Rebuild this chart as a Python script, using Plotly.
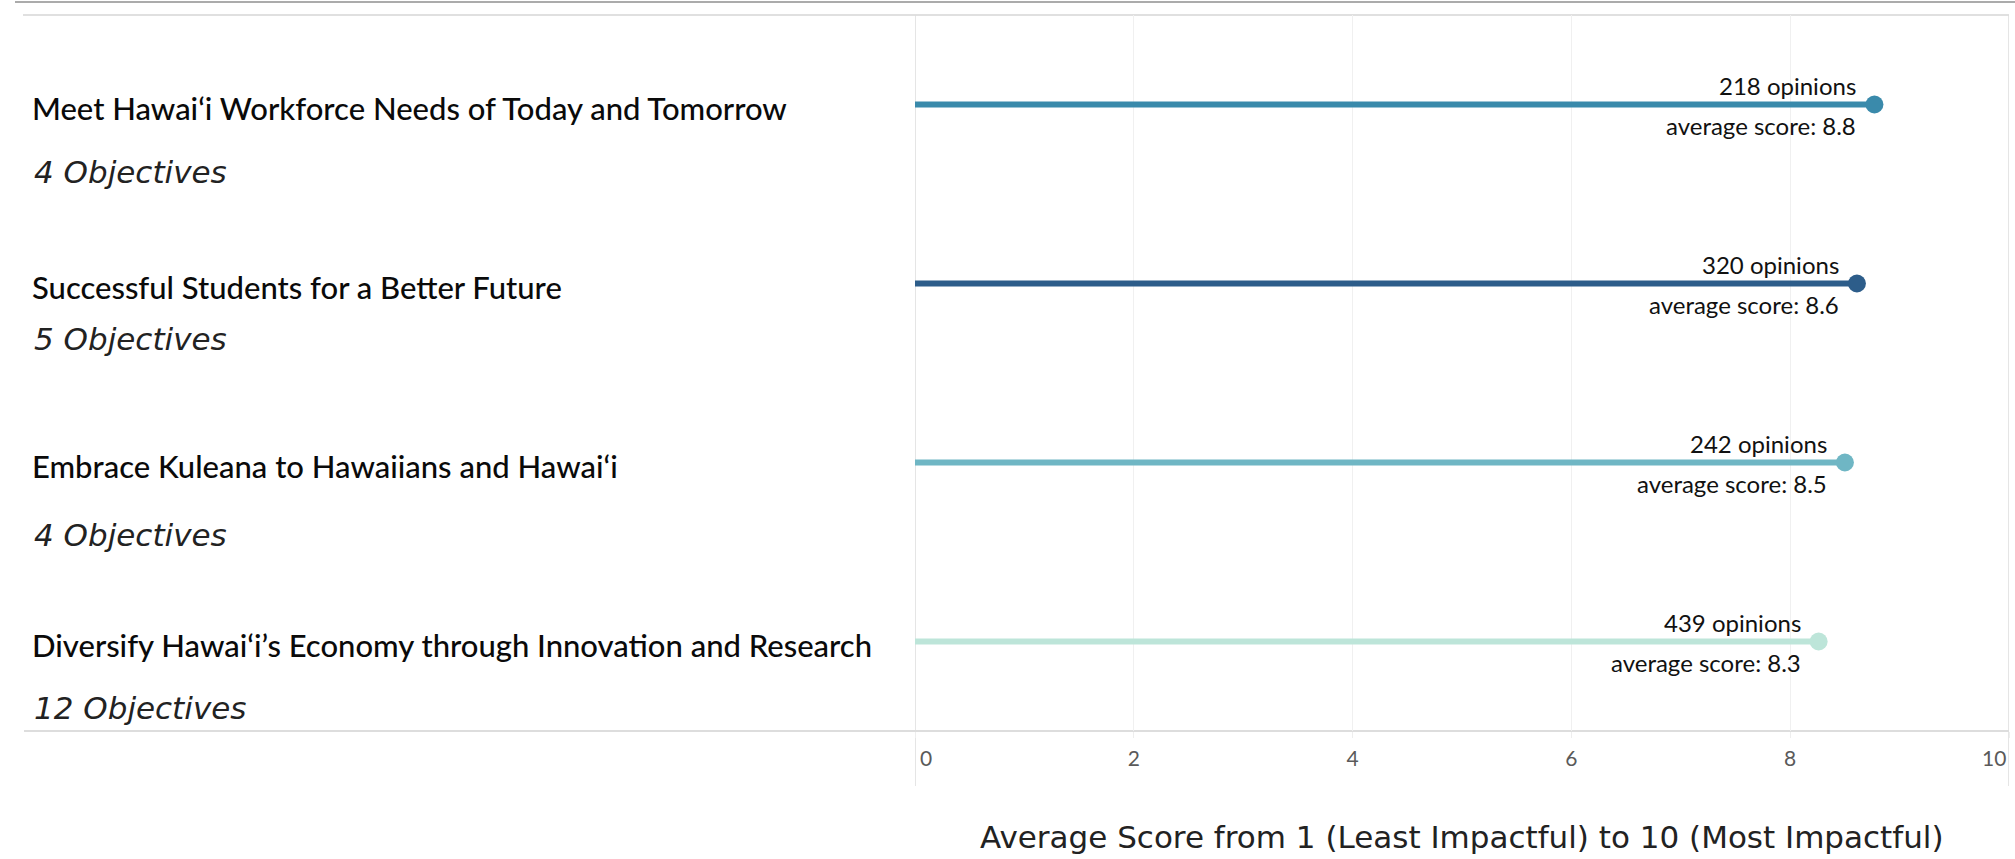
import plotly.graph_objects as go

# ---- data ----
categories = [
    "Meet Hawai\u2018i Workforce Needs of Today and Tomorrow",
    "Successful Students for a Better Future",
    "Embrace Kuleana to Hawaiians and Hawai\u2018i",
    "Diversify Hawai\u2018i\u2019s Economy through Innovation and Research",
]
objectives = [4, 5, 4, 12]
opinions = [218, 320, 242, 439]
scores = [8.77, 8.61, 8.50, 8.26]
x_ticks = [0, 2, 4, 6, 8, 10]
x_tick_labels = ["0", "2", "4", "6", "8", "10"]
axis_title = "Average Score from 1 (Least Impactful) to 10 (Most Impactful)"

# ---- style ----
colors = ["#3a8aab", "#2d5d8a", "#6fb6c4", "#bde5d9"]
subtitle_shift = [-67, -55, -72, -66]
W, H = 2015, 859
ML, MR, MT, MB = 915, 6, 15, 128
PW = W - ML - MR
PH = H - MT - MB


def px_x(px):
    return (px - ML) / PW


def px_y(py):
    return (H - MB - py) / PH


label_font = "Lato, 'Open Sans', sans-serif"
gothic_font = "'DejaVu Sans', sans-serif"
tick_font = dict(family=label_font, size=21, color="#5a5a5a")

fig = go.Figure()
for i, cat in enumerate(categories):
    fig.add_trace(go.Scatter(
        x=[0, scores[i]], y=[cat, cat], mode="lines",
        line=dict(color=colors[i], width=6), hoverinfo="skip", showlegend=False))
    fig.add_trace(go.Scatter(
        x=[scores[i]], y=[cat], mode="markers",
        marker=dict(color=colors[i], size=18, line=dict(width=0)),
        showlegend=False))

annotations = []
for i, cat in enumerate(categories):
    annotations.append(dict(
        x=scores[i], y=cat, xref="x", yref="y", text=f"{opinions[i]} opinions",
        xanchor="right", yanchor="middle", xshift=-16, yshift=19, showarrow=False,
        font=dict(family=label_font, size=24, color="#111111")))
    annotations.append(dict(
        x=scores[i], y=cat, xref="x", yref="y", text=f"average score: {scores[i]:.1f}",
        xanchor="right", yanchor="middle", xshift=-16, yshift=-21, showarrow=False,
        font=dict(family=label_font, size=24, color="#111111")))
    annotations.append(dict(
        x=px_x(30), y=cat, xref="paper", yref="y", text=cat,
        xanchor="left", yanchor="middle", yshift=-3, showarrow=False,
        font=dict(family=label_font, size=31, color="#0a0a0a", weight=500)))
    annotations.append(dict(
        x=px_x(32), y=cat, xref="paper", yref="y", text=f"{objectives[i]} Objectives",
        xanchor="left", yanchor="middle", yshift=subtitle_shift[i], showarrow=False,
        font=dict(family=gothic_font, size=31, color="#222222", style="italic")))

# Edge tick labels are clamped inside the pane (as in the reference)
annotations.append(dict(
    x=x_ticks[0], y=px_y(757), xref="x", yref="paper", text=x_tick_labels[0],
    xanchor="left", yanchor="middle", xshift=3, showarrow=False, font=tick_font))
annotations.append(dict(
    x=x_ticks[-1], y=px_y(757), xref="x", yref="paper", text=x_tick_labels[-1],
    xanchor="right", yanchor="middle", xshift=-1, showarrow=False, font=tick_font))

annotations.append(dict(
    x=0.5, y=px_y(837), xref="paper", yref="paper", text=axis_title,
    xanchor="center", yanchor="middle", showarrow=False,
    font=dict(family=gothic_font, size=31, color="#222222")))

shapes = [
    dict(type="line", xref="paper", yref="paper", x0=px_x(15), x1=px_x(2015),
         y0=px_y(2), y1=px_y(2), line=dict(color="#ababab", width=2), layer="below"),
    dict(type="line", xref="paper", yref="paper", x0=px_x(23), x1=1,
         y0=1, y1=1, line=dict(color="#e0e0e0", width=2), layer="below"),
    dict(type="line", xref="paper", yref="paper", x0=px_x(24), x1=1,
         y0=0, y1=0, line=dict(color="#d2d2d2", width=1.5), layer="below"),
    dict(type="line", xref="x", yref="paper", x0=0, x1=0,
         y0=1, y1=px_y(786), line=dict(color="#dcdcdc", width=1.5), layer="below"),
    dict(type="line", xref="x", yref="paper", x0=10, x1=10,
         y0=1, y1=px_y(786), line=dict(color="#dcdcdc", width=1.5), layer="below"),
]

inner_ticktext = [""] + x_tick_labels[1:-1] + [""]

fig.update_layout(
    width=W, height=H,
    margin=dict(l=ML, r=MR, t=MT, b=MB, pad=0, autoexpand=False),
    paper_bgcolor="white", plot_bgcolor="white",
    showlegend=False,
    annotations=annotations, shapes=shapes,
    xaxis=dict(range=[0, 10], tickvals=x_ticks, ticktext=inner_ticktext,
               automargin=False,
               showgrid=True, gridcolor="#f0f0f0", gridwidth=1,
               zeroline=False, showline=False,
               ticks="outside", ticklen=6, tickcolor="#eeeeee",
               ticklabelstandoff=3,
               tickfont=tick_font),
    yaxis=dict(type="category", categoryorder="array", categoryarray=categories,
               range=[3.5, -0.5], showgrid=False, zeroline=False, automargin=False,
               showticklabels=False, showline=False),
)

fig.write_html(
    "out.html",
    config={"displayModeBar": False},
    post_script="document.body.style.margin='0';document.body.style.padding='0';"
                "document.body.style.overflow='hidden';",
)
